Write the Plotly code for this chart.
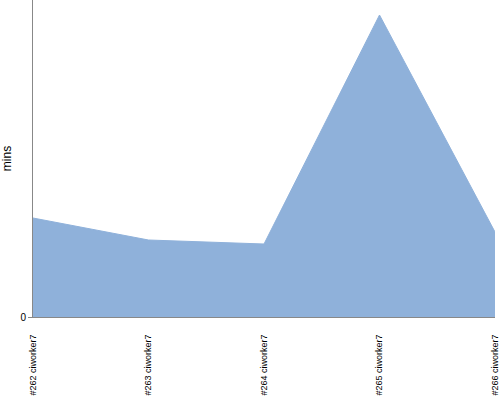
import plotly.graph_objects as go

builds = ["#262 ciworker7", "#263 ciworker7", "#264 ciworker7", "#265 ciworker7", "#266 ciworker7"]
mins = [9.9, 7.7, 7.3, 30.2, 8.5]

fig = go.Figure()
fig.add_trace(go.Scatter(
    x=list(range(len(builds))), y=mins, mode="lines", fill="tozeroy",
    line=dict(color="#8fb1da", width=1), fillcolor="#8fb1da", hoverinfo="skip"
))
fig.update_layout(
    width=500, height=400, margin=dict(l=33, r=5, t=0, b=83, autoexpand=False),
    plot_bgcolor="white", paper_bgcolor="white", showlegend=False,
    font=dict(family="Liberation Sans, Arial", color="#000000"),
)
fig.update_xaxes(
    range=[0, len(builds) - 1], tickmode="array", tickvals=list(range(len(builds))),
    ticktext=builds, tickangle=-90, showgrid=False, zeroline=False, automargin=False,
    showline=True, linecolor="#888888", linewidth=1,
    ticks="outside", ticklen=13, tickcolor="rgba(0,0,0,0)", tickfont=dict(size=9),
)
fig.update_yaxes(
    range=[0, 31.7], tickmode="array", tickvals=[0], ticktext=["0"], automargin=False,
    showgrid=False, zeroline=False, showline=True, linecolor="#888888", linewidth=1,
    ticks="outside", ticklen=4, tickcolor="#888888", tickfont=dict(size=10),
    title=dict(text="mins", font=dict(size=12), standoff=10),
)
fig.write_html("out.html", config={"displayModeBar": False},
               post_script="document.body.style.margin='0px';")
